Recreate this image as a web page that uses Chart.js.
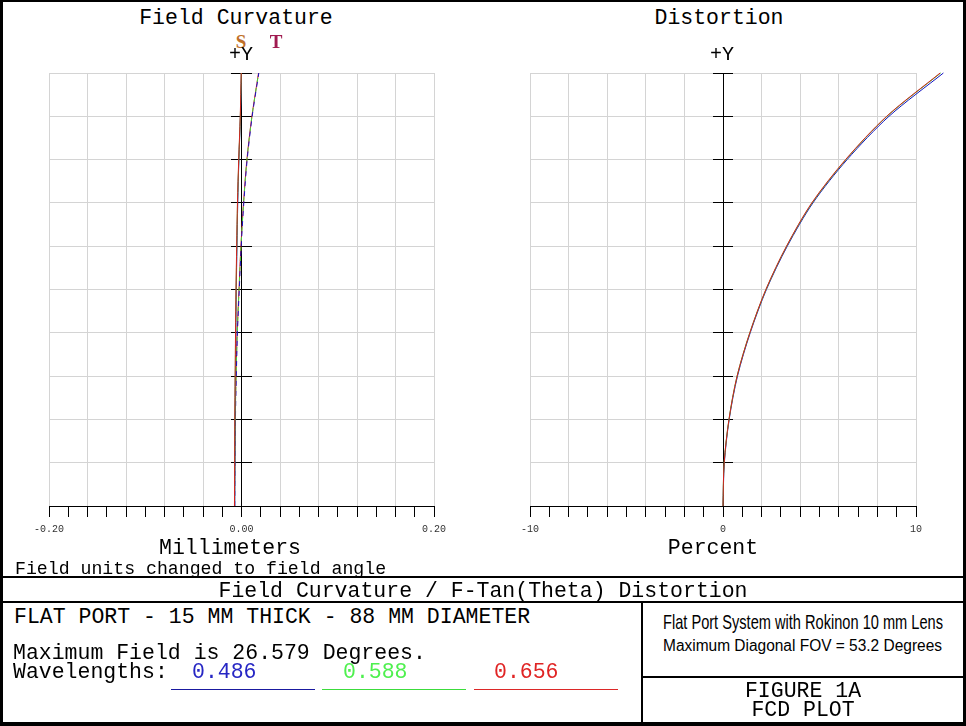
<!DOCTYPE html>
<html>
<head>
<meta charset="utf-8">
<script src="https://cdn.jsdelivr.net/npm/chart.js@4.4.1/dist/chart.umd.min.js"></script>
<style>
  html, body { margin: 0; padding: 0; background: #fff; }
  #page { position: relative; width: 966px; height: 726px; overflow: hidden; background: #fff; }
  canvas { position: absolute; }
  .t { position: absolute; white-space: pre; font-family: 'Liberation Mono', 'Courier New', monospace; line-height: 1; color: #000; }
  .ln { position: absolute; background: #000; }
</style>
</head>
<body>
<div id="page">
  <canvas id="fcChart" width="483" height="490" style="left:0;top:60px"></canvas>
  <canvas id="distChart" width="483" height="490" style="left:483px;top:60px"></canvas>

  <div class="ln" style="left:0;top:0;width:3px;height:726px"></div>
  <div class="ln" style="left:0;top:0;width:966px;height:2px"></div>
  <div class="ln" style="left:963px;top:0;width:3px;height:726px"></div>
  <div class="ln" style="left:0;top:722px;width:966px;height:4px"></div>
  <div class="ln" style="left:0;top:576px;width:966px;height:2px"></div>
  <div class="ln" style="left:0;top:601px;width:966px;height:2px"></div>
  <div class="ln" style="left:641px;top:602px;width:2px;height:121px"></div>
  <div class="ln" style="left:641px;top:676px;width:323px;height:2px"></div>
  <div class="ln" style="left:171px;top:689px;width:144px;height:1px;background:#1a1aa0"></div>
  <div class="ln" style="left:322px;top:689px;width:144px;height:1px;background:#3cdc3c"></div>
  <div class="ln" style="left:474px;top:689px;width:144px;height:1px;background:#dc2828"></div>
</div>
<script>
// field angle (deg) at each sample, 0 .. max field 26.579
const fieldAngles = [0, 2.658, 5.316, 7.974, 10.632, 13.290, 15.947, 18.605, 21.263, 23.921, 26.579];
const fieldTicks = [0, 2.658, 5.316, 7.974, 10.632, 13.290, 15.947, 18.605, 21.263, 23.921, 26.579];

// field curvature (mm)
const fcTicksX = [-0.20, -0.18, -0.16, -0.14, -0.12, -0.10, -0.08, -0.06, -0.04, -0.02, 0,
                  0.02, 0.04, 0.06, 0.08, 0.10, 0.12, 0.14, 0.16, 0.18, 0.20];
const fcLabelsX = ['-0.20', '0.00', '0.20'];
const sagRed   = [-0.0073, -0.0071, -0.0069, -0.0066, -0.0062, -0.0057, -0.0050, -0.0042, -0.0029, -0.0013, -0.0003];
const sagGreen = [-0.0072, -0.0070, -0.0068, -0.0065, -0.0061, -0.0056, -0.0049, -0.0041, -0.0028, -0.0012, -0.0002];
const sagBlue  = [-0.0070, -0.0068, -0.0066, -0.0063, -0.0059, -0.0054, -0.0047, -0.0039, -0.0027, -0.0011, -0.0001];
const tanRed   = [-0.0073, -0.0071, -0.0066, -0.0057, -0.0045, -0.0026, -0.0006, 0.0021, 0.0056, 0.0108, 0.0177];
const tanGreen = [-0.0072, -0.0070, -0.0065, -0.0056, -0.0044, -0.0025, -0.0005, 0.0022, 0.0057, 0.0109, 0.0178];
const tanBlue  = [-0.0070, -0.0068, -0.0063, -0.0054, -0.0042, -0.0023, -0.0003, 0.0024, 0.0059, 0.0111, 0.0180];

// f-tan(theta) distortion (%)
const distTicksX = [-10, -9, -8, -7, -6, -5, -4, -3, -2, -1, 0, 1, 2, 3, 4, 5, 6, 7, 8, 9, 10];
const distLabelsX = ['-10', '0', '10'];
const distRed   = [0, 0.06, 0.31, 0.73, 1.39, 2.22, 3.29, 4.60, 6.35, 8.48, 11.25];
const distGreen = [0, 0.06, 0.31, 0.73, 1.39, 2.23, 3.30, 4.62, 6.37, 8.50, 11.28];
const distBlue  = [0, 0.07, 0.32, 0.75, 1.41, 2.25, 3.33, 4.66, 6.43, 8.60, 11.42];

const BLUE = '#1414c0', GREEN = '#38d838', RED = '#d41e1e';
const GRID = '#d4d4d4';

function pts(vals) {
    return vals.map((v, i) => ({ x: v, y: fieldAngles[i] }));
}

function curve(vals, color, dash, dashOffset) {
    return {
        data: pts(vals),
        borderColor: color,
        borderWidth: 1,
        borderDash: dash || [],
        borderDashOffset: dashOffset || 0,
        showLine: true,
        pointRadius: 0,
        tension: 0.3,
        clip: false,
        xAxisID: 'x',
        yAxisID: 'y'
    };
}

function buildScales(ticksX, labelsX, minorStep, decimals) {
    const xMin = ticksX[0], xMax = ticksX[ticksX.length - 1];
    const tickFont = { family: "'Liberation Mono', monospace", size: 10 };
    const fieldTickSet = s => { s.ticks = fieldTicks.map(v => ({ value: v })); };
    return {
        x: {
            type: 'linear', min: xMin, max: xMax,
            position: { y: 0 },
            afterBuildTicks: s => { s.ticks = ticksX.map(v => ({ value: v })); },
            grid: {
                color: c => (c.tick && Math.round(c.tick.value / minorStep) % 2 === 0) ? GRID : 'rgba(0,0,0,0)',
                tickColor: '#000',
                tickLength: 10
            },
            border: { display: true, color: '#000', width: 1 },
            ticks: {
                autoSkip: false, maxRotation: 0, padding: 7, color: '#333', font: tickFont,
                callback: v => {
                    const s = Number(v).toFixed(decimals);
                    return labelsX.includes(s) ? s : '';
                }
            }
        },
        y: {
            type: 'linear', min: 0, max: 26.579,
            position: { x: xMin },
            afterBuildTicks: fieldTickSet,
            grid: { color: GRID, drawTicks: false },
            border: { display: false },
            ticks: { display: false }
        },
        yTickL: {
            type: 'linear', min: 0, max: 26.579,
            position: { x: 0 },
            afterBuildTicks: fieldTickSet,
            grid: { drawOnChartArea: false, drawTicks: true, tickLength: 10, tickColor: '#000' },
            border: { display: true, color: '#000', width: 1 },
            ticks: { display: false }
        },
        yTickR: {
            type: 'linear', min: 0, max: 26.579,
            position: { x: 0 },
            afterBuildTicks: fieldTickSet,
            grid: { drawOnChartArea: false, drawTicks: true, tickLength: -10, tickColor: '#000' },
            border: { display: false },
            ticks: { display: false }
        }
    };
}

function makeChart(id, datasets, scales, padding) {
    return new Chart(document.getElementById(id).getContext('2d'), {
        type: 'scatter',
        data: { datasets: datasets },
        options: {
            responsive: false,
            animation: false,
            devicePixelRatio: 1,
            layout: { padding: padding },
            plugins: { legend: { display: false }, tooltip: { enabled: false } },
            scales: scales
        }
    });
}

makeChart('fcChart', [
    curve(sagRed, RED),
    curve(sagGreen, GREEN),
    curve(sagBlue, BLUE),
    curve(tanBlue, BLUE, [5, 5], 0),
    curve(tanGreen, GREEN, [4, 6], 5),
    curve(tanRed, RED)
], buildScales(fcTicksX, fcLabelsX, 0.02, 2), { left: 49, top: 13, right: 49, bottom: 44 });

makeChart('distChart', [
    curve(distRed, RED),
    curve(distGreen, GREEN),
    curve(distBlue, BLUE)
], buildScales(distTicksX, distLabelsX, 1, 0), { left: 47, top: 13, right: 50, bottom: 44 });

// text: [text, x, baseline, align, size, color, family, fitWidth, weight]
const MONO = "'Liberation Mono', 'Courier New', monospace";
const NARROW = "'Liberation Sans Narrow', 'Liberation Sans', sans-serif";
const SERIF = "'Liberation Serif', serif";
const texts = [
    ['Field Curvature', 236, 24, 'c', 21.5],
    ['Distortion', 719, 24, 'c', 21.5],
    ['S', 241, 48, 'c', 19, '#c0702a', SERIF, 0, 'bold'],
    ['T', 276, 48, 'c', 19, '#a01a50', SERIF, 0, 'bold'],
    ['+Y', 241, 60, 'c', 20],
    ['+Y', 722, 60, 'c', 20],
    ['Millimeters', 230, 554, 'c', 21.5],
    ['Percent', 713, 554, 'c', 21.5],
    ['Field units changed to field angle', 15, 574, 'l', 18.2],
    ['Field Curvature / F-Tan(Theta) Distortion', 483, 597, 'c', 21.5],
    ['FLAT PORT - 15 MM THICK - 88 MM DIAMETER', 14, 623, 'l', 21.5],
    ['Maximum Field is 26.579 Degrees.', 13, 659, 'l', 21.5],
    ['Wavelengths:', 13, 678, 'l', 21.5],
    ['0.486', 192, 678, 'l', 21.5, '#2626c4'],
    ['0.588', 343, 678, 'l', 21.5, '#4ef04e'],
    ['0.656', 494, 678, 'l', 21.5, '#e02424'],
    ['Flat Port System with Rokinon 10 mm Lens', 663, 629, 'l', 21, '#000', NARROW, 280],
    ['Maximum Diagonal FOV = 53.2 Degrees', 663, 652, 'l', 16, '#000', NARROW, 279],
    ['FIGURE 1A', 803, 697, 'c', 21.5],
    ['FCD PLOT', 803, 716, 'c', 21.5]
];

const page = document.getElementById('page');
texts.forEach(([str, x, base, align, size, color, family, fitWidth, weight]) => {
    const el = document.createElement('div');
    el.className = 't';
    el.textContent = str;
    el.style.fontSize = size + 'px';
    el.style.fontFamily = family || MONO;
    if (weight) el.style.fontWeight = weight;
    if (color) el.style.color = color;
    el.style.top = (base - (family === NARROW ? 0.86 : family === SERIF ? 0.84 : 0.767) * size) + 'px';
    page.appendChild(el);
    const w = el.getBoundingClientRect().width;
    let sx = 1;
    if (fitWidth) sx = fitWidth / w;
    if (align === 'c') {
        el.style.left = (x - w * sx / 2) + 'px';
    } else {
        el.style.left = x + 'px';
    }
    if (sx !== 1) {
        el.style.transformOrigin = '0 0';
        el.style.transform = 'scaleX(' + sx + ')';
    }
});
</script>
</body>
</html>
